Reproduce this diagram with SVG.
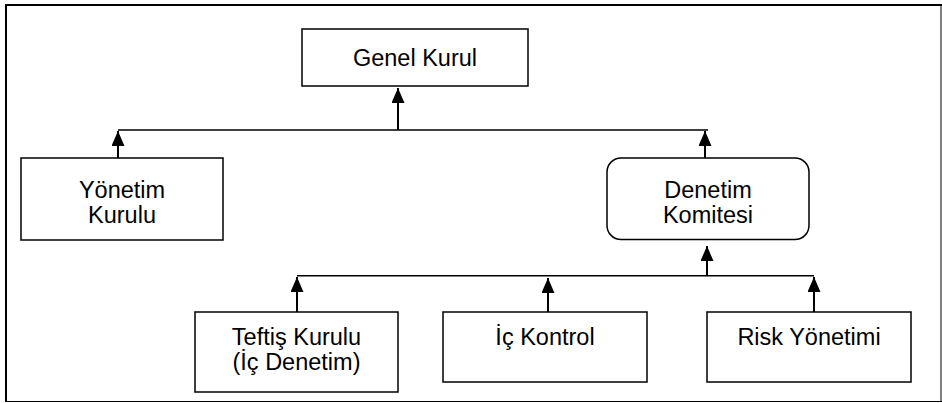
<svg xmlns="http://www.w3.org/2000/svg" width="942" height="403" viewBox="0 0 942 403">
  <defs>
    <marker id="arrow" markerUnits="userSpaceOnUse" markerWidth="15" markerHeight="13" refX="15" refY="6.5" orient="auto">
      <path d="M0,0 L15,6.5 L0,13 Z" fill="#000"/>
    </marker>
  </defs>
  <style>
    .box { fill: #fff; stroke: #000; stroke-width: 1.5; }
    .lbl { font-family: "Liberation Sans", Arial, sans-serif; font-size: 23.5px; fill: #000; text-anchor: middle; }
    .bus { fill: none; stroke: #000; stroke-width: 1.5; }
    .shaft { fill: none; stroke: #000; stroke-width: 2; marker-end: url(#arrow); }
    .frame { fill: none; stroke: #000; }
  </style>

  <rect width="942" height="403" fill="#fff"/>

  <!-- outer frame -->
  <g id="frame">
    <line class="frame" x1="5" y1="5" x2="942" y2="5" stroke-width="2"/>
    <line class="frame" x1="6" y1="4" x2="6" y2="402" stroke-width="2"/>
    <line class="frame" x1="6" y1="401.5" x2="942" y2="401.5" stroke-width="1"/>
    <line class="frame" x1="941" y1="4" x2="941" y2="402" stroke-width="1"/>
  </g>

  <!-- connectors -->
  <g id="connectors">
    <line class="bus" x1="118" y1="130" x2="708" y2="130"/>
    <line class="bus" x1="297" y1="275.7" x2="814" y2="275.7"/>
    <line class="shaft" x1="398" y1="130" x2="398" y2="88"/>
    <line class="shaft" x1="118" y1="158" x2="118" y2="131"/>
    <line class="shaft" x1="705" y1="158" x2="705" y2="131"/>
    <line class="shaft" x1="707" y1="275.7" x2="707" y2="246"/>
    <line class="shaft" x1="297" y1="312" x2="297" y2="277"/>
    <line class="shaft" x1="548" y1="312" x2="548" y2="278"/>
    <line class="shaft" x1="814" y1="312" x2="814" y2="277"/>
  </g>

  <g id="genel-kurul">
    <rect class="box" x="302" y="29" width="226" height="57"/>
    <text class="lbl" x="415" y="66">Genel Kurul</text>
  </g>

  <g id="yonetim-kurulu">
    <rect class="box" x="21" y="158" width="202" height="82"/>
    <text class="lbl" x="122" y="198">Yönetim</text>
    <text class="lbl" x="122" y="223">Kurulu</text>
  </g>

  <g id="denetim-komitesi">
    <rect class="box" x="607" y="158" width="202" height="81.5" rx="14" ry="14"/>
    <text class="lbl" x="708" y="198">Denetim</text>
    <text class="lbl" x="708" y="223">Komitesi</text>
  </g>

  <g id="teftis-kurulu">
    <rect class="box" x="195" y="312" width="203" height="80"/>
    <text class="lbl" x="296.5" y="345">Teftiş Kurulu</text>
    <text class="lbl" x="296.5" y="370">(İç Denetim)</text>
  </g>

  <g id="ic-kontrol">
    <rect class="box" x="443" y="312" width="204" height="70"/>
    <text class="lbl" x="545" y="345">İç Kontrol</text>
  </g>

  <g id="risk-yonetimi">
    <rect class="box" x="707" y="312" width="204" height="70"/>
    <text class="lbl" x="809" y="345">Risk Yönetimi</text>
  </g>
</svg>
